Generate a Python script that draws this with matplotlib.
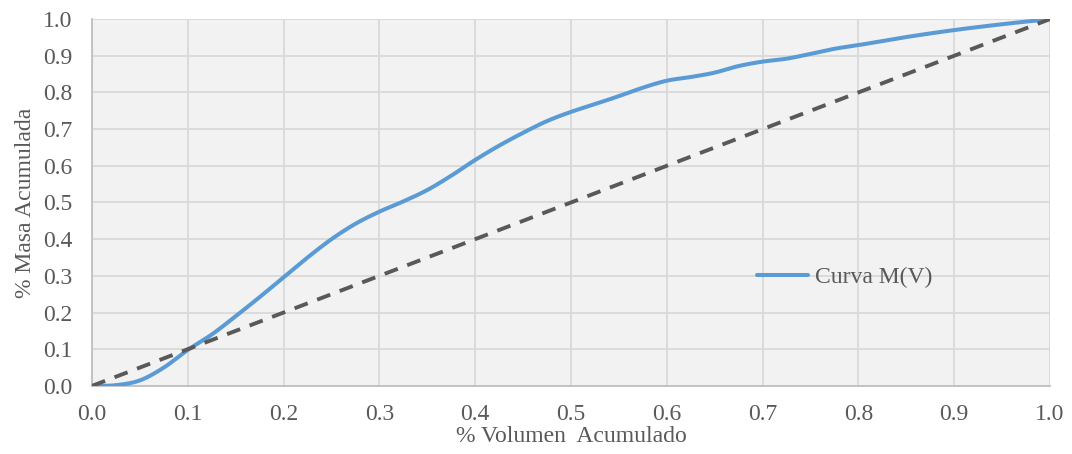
import numpy as np
import matplotlib
matplotlib.use("Agg")
import matplotlib.pyplot as plt

# curva M(V)
vol_acum = [0.0, 0.025, 0.05, 0.075, 0.1, 0.125, 0.15, 0.175, 0.2, 0.225, 0.25,
            0.275, 0.3, 0.325, 0.35, 0.375, 0.4, 0.425, 0.45, 0.475, 0.5, 0.525,
            0.55, 0.575, 0.6, 0.625, 0.65, 0.675, 0.7, 0.725, 0.75, 0.775, 0.8,
            0.85, 0.9, 0.95, 1.0]
masa_acum = [0.0, 0.002, 0.015, 0.05, 0.098, 0.14, 0.19, 0.242, 0.296, 0.35, 0.40,
             0.442, 0.475, 0.503, 0.534, 0.573, 0.616, 0.655, 0.69, 0.722, 0.747, 0.768,
             0.79, 0.813, 0.832, 0.842, 0.854, 0.872, 0.884, 0.892, 0.905, 0.919, 0.929,
             0.951, 0.97, 0.986, 1.0]
diagonal = [0.0, 1.0]
ticks = [i / 10 for i in range(11)]


def suavizar(x, y, n=12):
    # linea suavizada tipo Excel (Catmull-Rom) entre los puntos leidos
    x = np.asarray(x); y = np.asarray(y)
    px = np.concatenate([[2 * x[0] - x[1]], x, [2 * x[-1] - x[-2]]])
    py = np.concatenate([[2 * y[0] - y[1]], y, [2 * y[-1] - y[-2]]])
    xs, ys = [], []
    t = np.linspace(0, 1, n, endpoint=False)
    for i in range(1, len(px) - 2):
        for p, out in ((px, xs), (py, ys)):
            p0, p1, p2, p3 = p[i - 1], p[i], p[i + 1], p[i + 2]
            out.extend(0.5 * (2 * p1 + (-p0 + p2) * t + (2 * p0 - 5 * p1 + 4 * p2 - p3) * t ** 2
                              + (-p0 + 3 * p1 - 3 * p2 + p3) * t ** 3))
    xs.append(x[-1]); ys.append(y[-1])
    return xs, ys


plt.rcParams['font.family'] = ['Liberation Serif', 'DejaVu Serif']

fig = plt.figure(figsize=(10.72, 4.54), dpi=100)
ax = fig.add_axes([0.0858, 0.150, 0.8937, 0.808])
ax.set_facecolor('#F2F2F2')

sx, sy = suavizar(vol_acum, masa_acum)
ax.plot(sx, sy, color='#5B9BD5', lw=2.9, label='Curva M(V)',
        solid_capstyle='round', zorder=3)
ax.plot(diagonal, diagonal, color='#595959', lw=2.8, dashes=(3.6, 2.6), zorder=3)

ax.set_xlim(0, 1)
ax.set_ylim(0, 1)
ax.set_xticks(ticks)
ax.set_yticks(ticks)
ax.set_xticklabels([f'{t:.1f}' for t in ticks])
ax.set_yticklabels([f'{t:.1f}' for t in ticks])
ax.tick_params(length=0, labelsize=17, colors='#595959')
ax.tick_params(axis='x', pad=13)
ax.tick_params(axis='y', pad=14)
ax.grid(True, color='#D9D9D9', lw=1.3)
ax.set_axisbelow(True)
for s in ['top', 'right']:
    ax.spines[s].set_visible(False)
for s in ['left', 'bottom']:
    ax.spines[s].set_color('#BFBFBF')
    ax.spines[s].set_linewidth(1.3)

ax.set_xlabel('% Volumen  Acumulado', fontsize=17, color='#595959', labelpad=1)
ax.set_ylabel('% Masa Acumulada', fontsize=17, color='#595959', labelpad=5)

ax.legend(loc='center left', bbox_to_anchor=(0.672, 0.295), frameon=False,
          fontsize=17, labelcolor='#595959', handlelength=2.15, handletextpad=0.3)

fig.savefig('out.png', dpi=100)
